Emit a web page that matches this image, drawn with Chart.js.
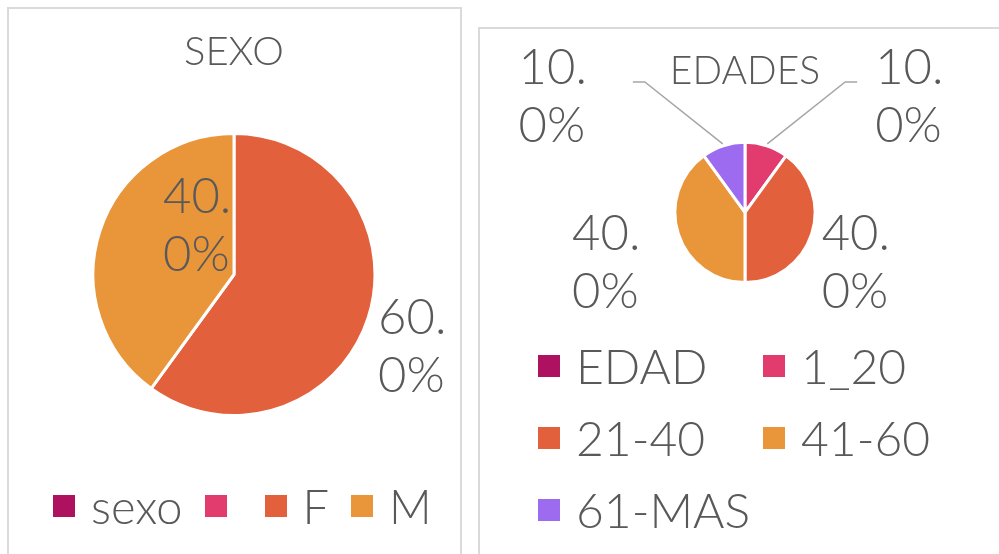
<!DOCTYPE html>
<html>
<head>
<meta charset="utf-8">
<script src="https://cdn.jsdelivr.net/npm/chart.js@4/dist/chart.umd.min.js"></script>
<style>
  body { margin: 0; width: 999px; height: 554px; overflow: hidden; background: #fff; position: relative; font-family: Lato, sans-serif; font-weight: 300; color: #595959; }
  .panel { position: absolute; box-sizing: border-box; border: 2px solid #dadada; background: #fff; }
  #p1 { left: 7px; top: 7px; width: 455px; height: 600px; }
  #p2 { left: 478px; top: 27px; width: 600px; height: 600px; }
  canvas { position: absolute; }
  #sexo { left: 8px; top: 8px; }
  #edad { left: 480px; top: 28px; }
  .legend { position: absolute; line-height: 1; }
  .legend .item { display: flex; align-items: center; }
  .legend .box { width: 22px; height: 22px; flex: none; }
  .legend .txt { margin-left: 16px; white-space: nowrap; }
  #legSexo { left: 53px; top: 476px; height: 60px; display: flex; align-items: center; font-size: 47px; }
  #legSexo .item { margin-right: 22px; }
  #legEdad { left: 538px; top: 330px; display: grid; grid-template-columns: 225px 225px; grid-auto-rows: 72px; align-items: center; font-size: 48px; }
</style>
</head>
<body>
<div class="panel" id="p1"></div>
<div class="panel" id="p2"></div>
<canvas id="sexo" width="452" height="546"></canvas>
<canvas id="edad" width="530" height="526"></canvas>
<div class="legend" id="legSexo"></div>
<div class="legend" id="legEdad"></div>
<script>
// data
var sexoLabels = ['sexo', '', 'F', 'M'];
var sexoValues = [0, 0, 60, 40];
var edadLabels = ['EDAD', '1_20', '21-40', '41-60', '61-MAS'];
var edadValues = [0, 10, 40, 40, 10];
var sliceColors = ['#AF1161', '#E23C6E', '#E2603C', '#E9953A', '#9C6BEF'];

var FONT = 'Lato, "Open Sans", sans-serif';
var TEXT = '#595959';

// percent labels, wrapped after the decimal point ("60." / "0%"),
// left aligned inside a text box a bit wider than the text
var sliceLabels = {
    id: 'sliceLabels',
    afterDatasetsDraw: function(chart, args, opts) {
        var ctx = chart.ctx;
        var ds = chart.data.datasets[0];
        var total = ds.data.reduce(function(a, b) { return a + b; }, 0);
        var arcs = chart.getDatasetMeta(0).data;
        ctx.save();
        ctx.font = '300 ' + opts.size + 'px ' + FONT;
        ctx.textAlign = 'left';
        ctx.textBaseline = 'middle';
        arcs.forEach(function(arc, i) {
            var mode = opts.modes[i];
            if (!mode || !ds.data[i]) return;
            var p = arc.getProps(['x', 'y', 'startAngle', 'endAngle', 'outerRadius'], true);
            var r = p.outerRadius;
            var pct = (ds.data[i] / total * 100).toFixed(1) + '%';
            var cut = pct.indexOf('.') + 1;
            var lines = [pct.slice(0, cut), pct.slice(cut)];
            var w = Math.max.apply(null, lines.map(function(t) { return ctx.measureText(t).width; }));
            var h = lines.length * opts.lineHeight;
            var mid = (p.startAngle + p.endAngle) / 2;
            var side = Math.cos(mid) >= 0 ? 1 : -1;
            var left, cy;
            if (mode.type === 'in') {
                var a = p.startAngle + (p.endAngle - p.startAngle) * mode.along;
                left = p.x + Math.cos(a) * r * mode.radius - w / 2;
                cy = p.y + Math.sin(a) * r * mode.radius;
            } else if (mode.type === 'out') {
                var ax = p.x + Math.cos(mid) * r + side * opts.gap;
                left = side > 0 ? ax : ax - w - opts.boxPad;
                cy = p.y + Math.sin(mid) * r + h / 4;
            } else {
                // callout with leader line
                var ex = p.x + side * r * opts.calloutX;
                var ey = p.y - r * opts.calloutY;
                ctx.strokeStyle = '#a6a6a6';
                ctx.lineWidth = 1.5;
                ctx.beginPath();
                ctx.moveTo(p.x + Math.cos(mid) * (r + 2), p.y + Math.sin(mid) * (r + 2));
                ctx.lineTo(ex - side * 12, ey);
                ctx.lineTo(ex, ey);
                ctx.stroke();
                var bx = ex + side * 18;
                left = side > 0 ? bx : bx - w - opts.boxPad;
                cy = ey + 15;
            }
            ctx.fillStyle = TEXT;
            lines.forEach(function(t, k) {
                ctx.fillText(t, left, cy - h / 2 + opts.lineHeight * (k + 0.5));
            });
        });
        ctx.restore();
    }
};

function pieChart(id, labels, values, title, titleSize, pad, modes) {
    return new Chart(document.getElementById(id), {
        type: 'pie',
        data: {
            labels: labels,
            datasets: [{
                data: values,
                backgroundColor: sliceColors.slice(0, labels.length),
                borderColor: '#ffffff',
                borderWidth: 3,
                hoverOffset: 0
            }]
        },
        options: {
            responsive: false,
            animation: false,
            layout: { padding: { top: 0, bottom: pad.bottom, left: 0, right: 0 } },
            plugins: {
                legend: { display: false },
                tooltip: { enabled: false },
                title: {
                    display: true,
                    text: title,
                    color: TEXT,
                    font: { family: FONT, size: titleSize, weight: 300, lineHeight: 1.2 },
                    padding: { top: pad.titleTop, bottom: pad.titleBottom }
                },
                sliceLabels: { size: 49, lineHeight: 58, gap: 10, boxPad: 28, calloutX: 1.6, calloutY: 1.86, modes: modes }
            }
        },
        plugins: [sliceLabels]
    });
}

function htmlLegend(chart, el) {
    var ds = chart.data.datasets[0];
    chart.data.labels.forEach(function(lbl, i) {
        var item = document.createElement('div');
        item.className = 'item';
        var box = document.createElement('span');
        box.className = 'box';
        box.style.background = ds.backgroundColor[i];
        var txt = document.createElement('span');
        txt.className = 'txt';
        txt.textContent = lbl;
        item.appendChild(box);
        item.appendChild(txt);
        el.appendChild(item);
    });
}

var sexoChart = pieChart('sexo', sexoLabels, sexoValues, 'SEXO', 40,
    { titleTop: 20, titleBottom: 56, bottom: 137 },
    [null, null, { type: 'out' }, { type: 'in', along: 0.74, radius: 0.43 }]);

var edadChart = pieChart('edad', edadLabels, edadValues, 'EDADES', 39,
    { titleTop: 20, titleBottom: 46, bottom: 270 },
    [null, { type: 'callout' }, { type: 'out' }, { type: 'out' }, { type: 'callout' }]);

htmlLegend(sexoChart, document.getElementById('legSexo'));
htmlLegend(edadChart, document.getElementById('legEdad'));
</script>
</body>
</html>
